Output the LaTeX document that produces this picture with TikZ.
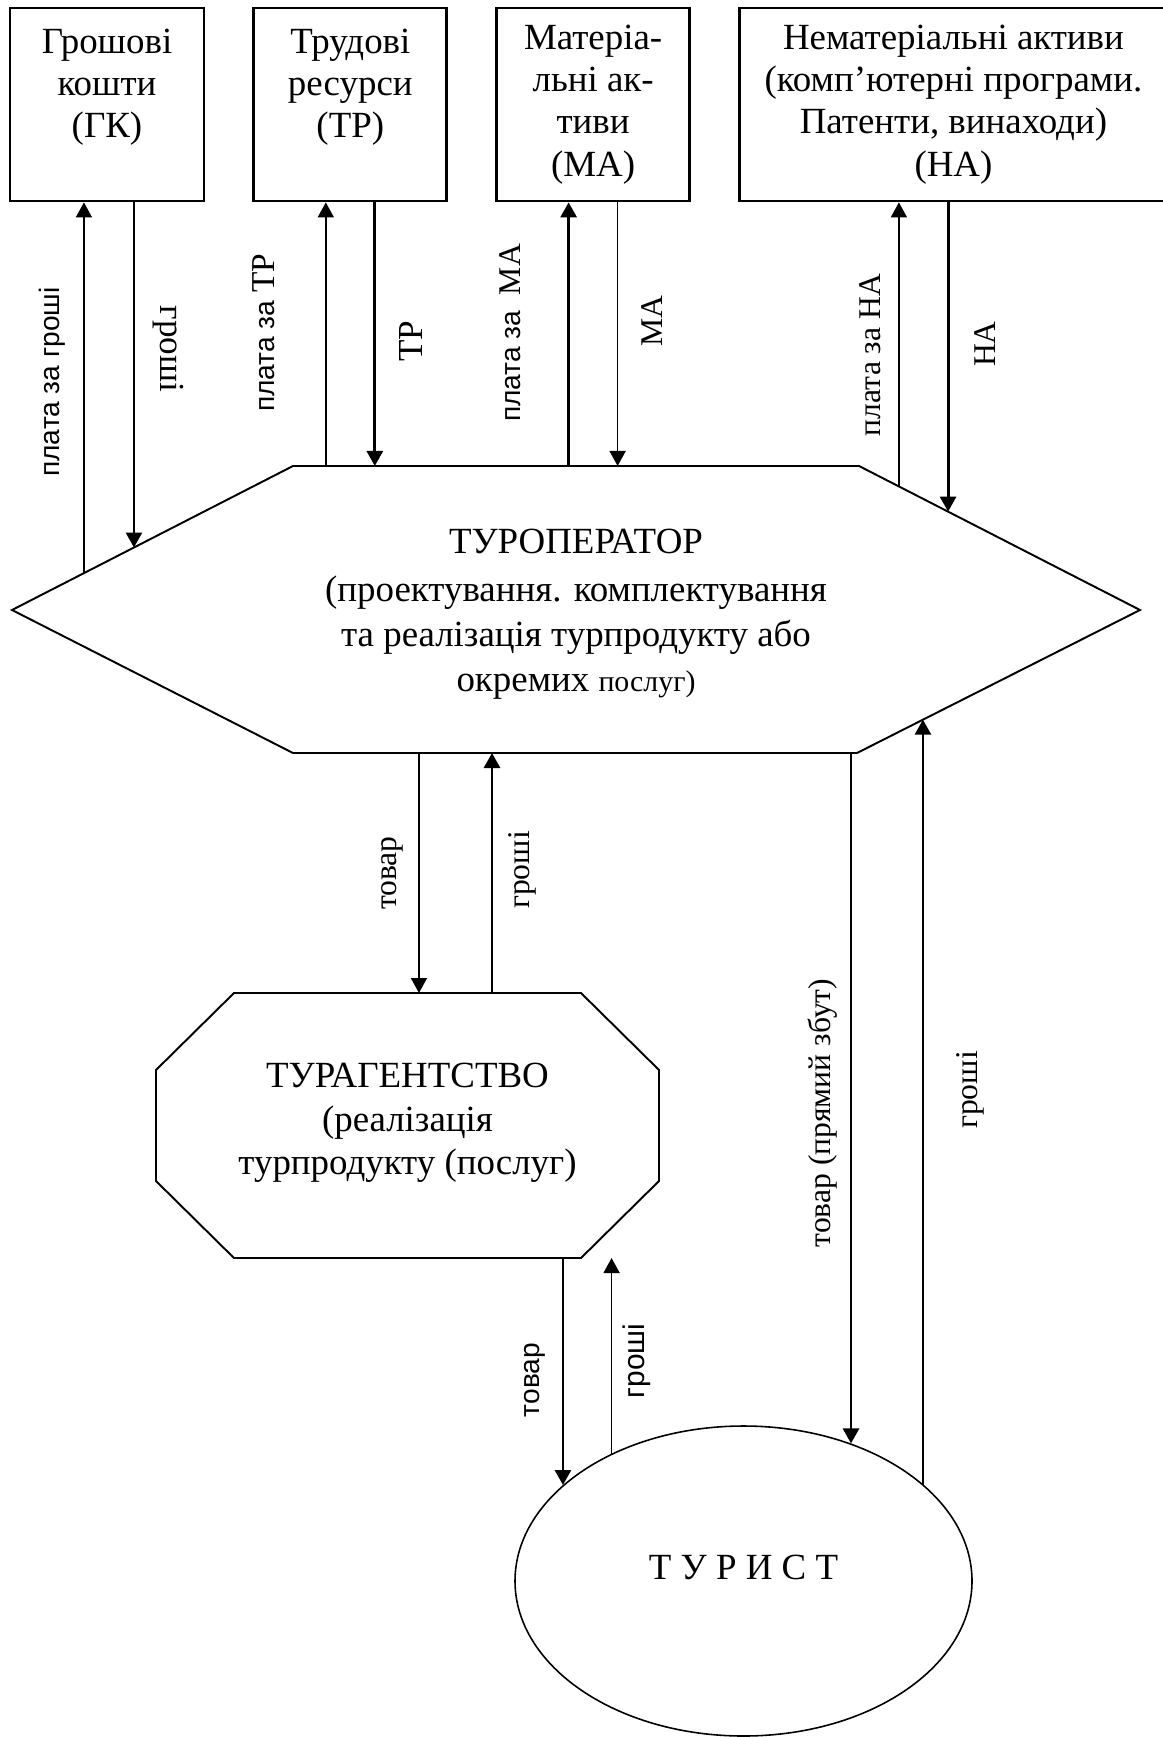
\documentclass[tikz,border=0pt]{standalone}
\usepackage{fontspec}
\setmainfont{Liberation Serif}
\setsansfont{Liberation Sans}
\usetikzlibrary{arrows.meta,calc,positioning,shapes.geometric}

\tikzset{
  box/.style={draw, line width=0.8pt, minimum width=19.3mm, minimum height=19.3mm,
    inner sep=0pt, align=center, font=\fontsize{10.5}{12}\selectfont},
  fig/.style={line width=0.55pt, line join=miter},
  arr/.style={-{Triangle[length=1.5mm,width=1.6mm]}},
  heavy/.style={arr, line width=0.8pt},
  light/.style={arr, line width=0.45pt},
  lbl/.style={rotate=90, inner sep=0pt, font=\fontsize{9}{10}\selectfont},
  slbl/.style={lbl, font=\sffamily\fontsize{8}{9}\selectfont}
}

\begin{document}
\begin{tikzpicture}[x=0.1mm, y=-0.1mm]
\useasboundingbox (0,0) rectangle (1162,1737);

% Ресурси
\node[box, minimum width=19.4mm] (gk) at (107,104.5) {Грошові\\кошти\\(ГК)\\~};
\node[box, right=4.7mm of gk] (tr) {Трудові\\ресурси\\(ТР)\\~};
\node[box, right=4.7mm of tr] (ma) {Матеріа-\\льні ак-\\тиви\\(МА)};
\node[box, right=4.7mm of ma, minimum width=42.8mm] (na)
  {Нематеріальні активи\\(комп’ютерні програми.\\Патенти, винаходи)\\(НА)};

% Туроператор
\coordinate (hw) at (12,610);
\coordinate (hnw) at (293,466);
\coordinate (hne) at (859,466);
\coordinate (he) at (1140,610);
\coordinate (hse) at (857,753);
\coordinate (hsw) at (293,753);
\draw[fig] (hw) -- (hnw) -- (hne) -- (he) -- (hse) -- (hsw) -- cycle;
\node[align=center, font=\fontsize{10.5}{12.8}\selectfont] (tour) at (576,614)
  {ТУРОПЕРАТОР\\[1pt](проектування. комплектування\\та реалізація турпродукту або\\окремих {\fontsize{8.5}{12.8}\selectfont послуг)}};

% Турагентство
\coordinate (a1) at (234,993);
\coordinate (a2) at (581,993);
\coordinate (a3) at (659,1070);
\coordinate (a4) at (659,1181);
\coordinate (a5) at (581,1258);
\coordinate (a6) at (234,1258);
\coordinate (a7) at (156,1181);
\coordinate (a8) at (156,1070);
\draw[fig] (a1) -- (a2) -- (a3) -- (a4) -- (a5) -- (a6) -- (a7) -- (a8) -- cycle;
\node[align=center, font=\fontsize{10.5}{12.4}\selectfont] (agent) at (407.5,1123)
  {ТУРАГЕНТСТВО\\(реалізація\\турпродукту (послуг)};

% Турист
\node[ellipse, draw, line width=0.45pt, minimum width=45.7mm, minimum height=31mm,
  inner sep=0pt, text depth=2.8mm, font=\fontsize{10.5}{12}\selectfont] (tourist) at (743.5,1581) {Т У Р И С Т};

% Потоки ресурсів
\coordinate (c1) at ($(hw)!0.256!(hnw)$);
\coordinate (c2) at ($(hw)!0.434!(hnw)$);
\coordinate (c3) at ([xshift=-2.45mm]tr.south);
\coordinate (c4) at ([xshift=2.45mm]tr.south);
\coordinate (c5) at ([xshift=-2.45mm]ma.south);
\coordinate (c6) at ([xshift=2.45mm]ma.south);
\coordinate (c7) at ($(hne)!0.142!(he)$);
\coordinate (c8) at ($(hne)!0.317!(he)$);

\draw[light] (c1) -- (c1 |- gk.south);
\draw[heavy] (c2 |- gk.south) -- (c2);
\draw[light] (c3 |- hnw) -- (c3);
\draw[heavy] (c4) -- (c4 |- hnw);
\draw[heavy] (c5 |- hnw) -- (c5);
\draw[light] (c6) -- (c6 |- hnw);
\draw[light] (c7) -- (c7 |- na.south);
\draw[heavy] (c8 |- na.south) -- (c8);

% Збут
\coordinate (c9) at ($(a1)!0.533!(a2)$);
\coordinate (c10) at ($(a1)!0.7435!(a2)$);
\coordinate (c12) at ($(hse)!0.233!(he)$);

\draw[light] (c9 |- hsw) -- (c9);
\draw[heavy] (c10) -- (c10 |- hsw);
\draw[heavy] (tourist.152 |- a5) -- (tourist.152);
\draw[light] (tourist.136) -- (tourist.136 |- a5);
\draw[heavy] (tourist.52 |- hsw) -- (tourist.52);
\draw[heavy] (c12 |- tourist.28) -- (c12);

% Підписи
\node[slbl] (l1) at (52,382) {плата за гроші};
\node[rotate=-90, inner sep=0pt, font=\fontsize{10}{11}\selectfont] (l2) at (168,349) {гроші};
\node[slbl] (l3) at (264,333) {плата за {\rmfamily\fontsize{9.5}{10}\selectfont ТР}};
\node[lbl, font=\fontsize{10}{11}\selectfont] (l4) at (411,341) {ТР};
\node[slbl] (l5) at (510,333) {плата за~ {\rmfamily\fontsize{9}{10}\selectfont МА}};
\node[lbl] (l6) at (652,321) {МА};
\node[lbl] (l7) at (870,355) {плата за НА};
\node[lbl] (l8) at (985,344) {НА};
\node[lbl] (l9) at (392,873) {товар};
\node[lbl] (l10) at (522,870) {гроші};
\node[slbl] (l11) at (535,1380) {товар};
\node[slbl, font=\sffamily\fontsize{8.5}{9}\selectfont] (l12) at (637,1361) {гроші};
\node[lbl] (l13) at (823,1113) {товар (прямий збут)};
\node[lbl] (l14) at (970,1090) {гроші};
\end{tikzpicture}
\end{document}
